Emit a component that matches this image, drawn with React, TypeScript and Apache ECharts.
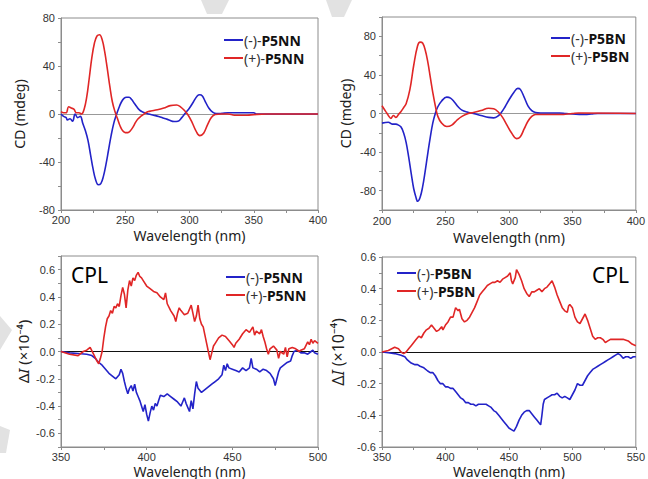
import React, { useEffect, useRef } from "react";
import * as echarts from "echarts";

// ---------- DATA ----------
// CD spectra: [wavelength (nm), CD (mdeg)]
const cdMinusP5NN: [number, number][] = [
  [200, 0], [202, -2], [204, -3], [205, -5], [207, -4], [209, -6], [211, 0], [213, -3], [215, -2],
  [217, -8], [219, -14], [221, -22], [223, -34], [225, -46], [227, -55], [229, -59], [231, -58],
  [233, -52], [235, -42], [237, -30], [239, -18], [241, -8], [243, -1], [245, 5], [247, 10],
  [249, 13], [251, 14], [253, 14], [255, 12], [257, 9], [259, 6], [261, 3.5], [263, 2], [265, 1],
  [268, 0], [272, -1], [276, -2], [280, -3.5], [284, -5], [288, -6.3], [291, -6], [294, -3],
  [297, 1], [300, 5], [303, 10], [306, 15], [308, 16], [310, 15], [312, 11], [315, 5], [318, 1.5],
  [321, 0.3], [325, 0.5], [330, 1], [340, 1], [350, 1], [352, 0], [360, 0], [400, 0],
];
const cdPlusP5NN: [number, number][] = [
  [200, 2], [202, 1], [204, 1], [206, 6], [208, 5], [210, 4], [212, 1], [214, 1], [216, 0],
  [218, 4], [220, 14], [222, 30], [224, 47], [226, 59], [228, 65], [230, 66], [232, 62], [234, 52],
  [236, 38], [238, 23], [240, 10], [242, 2], [244, -4], [246, -10], [248, -14], [250, -15.5],
  [252, -15.5], [254, -14], [256, -11], [258, -7], [260, -4], [262, -2], [264, -0.5], [266, 1],
  [268, 2], [270, 2.5], [275, 3.5], [280, 5], [285, 7], [290, 7.5], [293, 6], [296, 3], [299, -1],
  [302, -7], [305, -14], [308, -18], [311, -16], [314, -9], [317, -3], [320, -0.5], [325, 0],
  [330, 0], [335, -1], [340, -1], [345, -1], [350, -0.5], [360, 0], [400, 0],
];
const cdMinusP5BN: [number, number][] = [
  [200, -10], [205, -9], [208, -11], [211, -11], [213, -12], [215, -14], [217, -20], [219, -30],
  [221, -45], [223, -62], [225, -78], [227, -88], [228, -91], [230, -87], [232, -76], [234, -60],
  [236, -42], [238, -25], [240, -10], [242, 0], [244, 7], [247, 13], [251, 17], [254, 16],
  [257, 12], [260, 7], [263, 3.5], [267, 1.5], [272, 0], [278, -2], [284, -4], [288, -4.5],
  [291, -3], [294, 1], [297, 7], [300, 14], [304, 22], [307, 26], [309, 25], [312, 17], [315, 8],
  [318, 3], [321, 1], [325, 0.5], [340, 0.5], [345, 0], [360, -1], [365, -0.5], [370, 0], [400, 0],
];
const cdPlusP5BN: [number, number][] = [
  [200, 8], [203, 2], [205, -2], [207, -5], [209, -2], [211, -4], [213, -1], [215, 2], [217, 6],
  [219, 10], [222, 25], [225, 50], [228, 70], [230, 74], [232, 73], [234, 66], [236, 54],
  [238, 38], [240, 22], [242, 8], [244, -3], [247, -10], [251, -13.5], [255, -12], [259, -7],
  [263, -3], [268, 0], [272, 1], [278, 3], [284, 5.5], [288, 5], [292, 1], [295, -4], [298, -11],
  [302, -20], [306, -26], [309, -24], [312, -16], [315, -8], [318, -3], [321, -1], [325, -1],
  [340, -1], [350, 0], [355, 0.5], [400, 0],
];

// CPL spectra: [wavelength (nm), ΔI (×10^-4)]
const cplMinusP5NN: [number, number][] = [
  [350, 0], [355, -0.01], [360, -0.015], [365, -0.02], [368, -0.03], [370, -0.05], [372, -0.08],
  [374, -0.1], [376, -0.13], [378, -0.16], [380, -0.18], [382, -0.2], [384, -0.17], [385, -0.13],
  [386, -0.16], [387, -0.22], [388, -0.27], [389, -0.31], [390, -0.27], [391, -0.25], [392, -0.29],
  [393, -0.24], [394, -0.3], [395, -0.33], [396, -0.36], [397, -0.4], [398, -0.44], [399, -0.39],
  [400, -0.46], [401, -0.51], [402, -0.45], [403, -0.4], [404, -0.43], [405, -0.38], [406, -0.4],
  [407, -0.36], [408, -0.32], [410, -0.33], [412, -0.31], [414, -0.33], [416, -0.35], [418, -0.37],
  [420, -0.4], [421, -0.37], [422, -0.34], [423, -0.38], [425, -0.44], [426, -0.36], [427, -0.42],
  [428, -0.31], [429, -0.22], [430, -0.27], [432, -0.3], [434, -0.28], [436, -0.26], [438, -0.24],
  [440, -0.22], [442, -0.2], [444, -0.17], [445, -0.1], [446, -0.14], [447, -0.09], [448, -0.12],
  [450, -0.13], [452, -0.14], [454, -0.15], [456, -0.12], [458, -0.14], [460, -0.12], [461, -0.05],
  [462, -0.12], [464, -0.13], [466, -0.15], [468, -0.13], [470, -0.14], [472, -0.16], [474, -0.2],
  [475, -0.25], [476, -0.2], [477, -0.15], [478, -0.12], [480, -0.1], [482, -0.08], [484, -0.07],
  [485, -0.03], [486, 0], [488, 0.01], [490, -0.01], [492, -0.01], [494, -0.02], [496, 0],
  [497, 0.01], [498, -0.01], [500, -0.02],
];
const cplPlusP5NN: [number, number][] = [
  [350, 0], [355, -0.02], [360, -0.03], [363, 0], [365, 0.01], [367, 0.03], [369, -0.02],
  [371, -0.07], [372, -0.09], [373, -0.05], [374, 0], [375, 0.1], [376, 0.18], [377, 0.24],
  [378, 0.26], [379, 0.3], [380, 0.28], [381, 0.33], [382, 0.32], [383, 0.35], [384, 0.33],
  [385, 0.41], [386, 0.47], [387, 0.42], [388, 0.32], [389, 0.45], [390, 0.52], [391, 0.48],
  [392, 0.54], [393, 0.52], [394, 0.56], [395, 0.58], [396, 0.55], [397, 0.54], [398, 0.52],
  [400, 0.48], [402, 0.46], [404, 0.44], [406, 0.43], [408, 0.4], [410, 0.38], [411, 0.43],
  [412, 0.35], [414, 0.3], [416, 0.26], [417, 0.22], [418, 0.28], [419, 0.32], [420, 0.3],
  [422, 0.27], [424, 0.28], [426, 0.34], [427, 0.28], [428, 0.22], [429, 0.26], [430, 0.34],
  [431, 0.24], [432, 0.2], [433, 0.18], [434, 0.12], [435, 0.06], [436, 0], [437, -0.06],
  [438, -0.01], [439, 0.04], [440, 0.06], [442, 0.1], [444, 0.12], [446, 0.11], [448, 0.08],
  [450, 0.05], [451, 0.03], [452, 0.06], [454, 0.09], [456, 0.13], [458, 0.16], [460, 0.14],
  [462, 0.18], [463, 0.12], [464, 0.15], [466, 0.13], [467, 0.16], [468, 0.11], [469, 0.07],
  [470, 0.02], [471, -0.02], [472, 0.02], [474, 0.04], [476, 0.01], [477, -0.05], [478, 0],
  [480, -0.02], [481, 0.03], [482, -0.04], [483, 0.02], [485, 0.03], [487, 0.02], [489, 0],
  [490, 0.01], [492, 0.02], [494, 0.07], [495, 0.05], [496, 0.09], [497, 0.06], [498, 0.08],
  [500, 0.06],
];
const cplMinusP5BN: [number, number][] = [
  [350, 0], [355, -0.005], [360, -0.01], [365, -0.02], [368, -0.03], [370, -0.05], [373, -0.07],
  [376, -0.08], [378, -0.08], [380, -0.09], [383, -0.1], [386, -0.12], [388, -0.13], [390, -0.13],
  [392, -0.15], [394, -0.18], [396, -0.2], [398, -0.2], [400, -0.22], [402, -0.22], [404, -0.23],
  [406, -0.23], [408, -0.25], [410, -0.27], [412, -0.29], [414, -0.3], [416, -0.32], [418, -0.32],
  [420, -0.33], [422, -0.33], [424, -0.34], [426, -0.33], [428, -0.33], [430, -0.33], [432, -0.33],
  [434, -0.34], [436, -0.35], [438, -0.37], [440, -0.38], [442, -0.4], [444, -0.42], [446, -0.44],
  [448, -0.46], [450, -0.48], [452, -0.49], [454, -0.5], [456, -0.47], [458, -0.43], [460, -0.4],
  [462, -0.38], [464, -0.37], [466, -0.37], [468, -0.39], [470, -0.41], [472, -0.43], [474, -0.45],
  [475, -0.46], [476, -0.4], [477, -0.33], [478, -0.3], [480, -0.29], [482, -0.28], [484, -0.27],
  [486, -0.27], [488, -0.26], [490, -0.28], [492, -0.29], [494, -0.28], [496, -0.29], [498, -0.3],
  [500, -0.27], [502, -0.24], [504, -0.2], [506, -0.21], [508, -0.21], [510, -0.18], [512, -0.15],
  [514, -0.13], [516, -0.11], [518, -0.1], [520, -0.09], [522, -0.08], [524, -0.07], [526, -0.06],
  [528, -0.05], [530, -0.04], [532, -0.03], [534, -0.02], [536, -0.01], [538, -0.02], [540, -0.04],
  [542, -0.03], [544, -0.03], [546, -0.04], [548, -0.03], [550, -0.03],
];
const cplPlusP5BN: [number, number][] = [
  [350, 0], [355, 0.01], [360, 0.03], [363, 0.02], [365, 0], [367, -0.01], [369, 0], [371, 0.02],
  [373, 0.04], [375, 0.06], [377, 0.08], [379, 0.1], [381, 0.09], [383, 0.12], [385, 0.14],
  [387, 0.15], [389, 0.17], [391, 0.15], [393, 0.13], [395, 0.14], [397, 0.16], [398, 0.14],
  [400, 0.17], [402, 0.19], [404, 0.22], [406, 0.22], [408, 0.28], [410, 0.26], [411, 0.27],
  [413, 0.21], [415, 0.19], [417, 0.2], [419, 0.22], [421, 0.25], [423, 0.28], [425, 0.32],
  [427, 0.36], [429, 0.38], [431, 0.4], [433, 0.42], [435, 0.43], [437, 0.44], [439, 0.44],
  [441, 0.45], [443, 0.44], [445, 0.46], [447, 0.47], [449, 0.48], [451, 0.5], [452, 0.45],
  [453, 0.43], [455, 0.47], [456, 0.52], [458, 0.49], [460, 0.45], [462, 0.4], [464, 0.37],
  [466, 0.35], [468, 0.38], [470, 0.38], [472, 0.39], [474, 0.4], [476, 0.38], [478, 0.4],
  [480, 0.41], [482, 0.43], [484, 0.45], [486, 0.41], [488, 0.36], [490, 0.32], [492, 0.28],
  [494, 0.26], [496, 0.25], [497, 0.29], [498, 0.3], [500, 0.28], [502, 0.22], [504, 0.19],
  [506, 0.18], [508, 0.21], [510, 0.24], [512, 0.2], [514, 0.15], [516, 0.1], [518, 0.08],
  [520, 0.09], [522, 0.09], [524, 0.08], [526, 0.06], [528, 0.07], [530, 0.08], [535, 0.08],
  [540, 0.08], [544, 0.07], [547, 0.05], [550, 0.04],
];

const nameMinusNN = "(-)-P5NN";
const namePlusNN = "(+)-P5NN";
const nameMinusBN = "(-)-P5BN";
const namePlusBN = "(+)-P5BN";

// ---------- STYLE ----------
const BLUE = "#2323c8";
const RED = "#e02626";
const FRAME = "#8c8c8c";
const TICK_FONT = "Liberation Sans, Arial, sans-serif";
const TEXT_FONT = "Noto Sans, Open Sans, sans-serif";

function xAxisFor(gridIndex: number, min: number, max: number, gap: number, margin: number) {
  return {
    type: "value",
    gridIndex,
    min,
    max,
    interval: 25,
    name: "Wavelength (nm)",
    nameLocation: "middle",
    nameGap: gap,
    nameTextStyle: { fontSize: 14, color: "#222", fontFamily: TEXT_FONT },
    axisLine: { onZero: false, lineStyle: { color: FRAME, width: 1 } },
    axisTick: { show: true, inside: false, length: 3, lineStyle: { color: FRAME } },
    splitLine: { show: false },
    axisLabel: {
      fontSize: 11,
      color: "#333",
      fontFamily: TICK_FONT,
      margin,
      formatter: (v: number) => (Math.round(v) % 50 === 0 ? String(Math.round(v)) : ""),
    },
  };
}

function yAxisCD(gridIndex: number, min: number, max: number, gap: number) {
  return {
    type: "value",
    gridIndex,
    min,
    max,
    interval: 20,
    name: "CD (mdeg)",
    nameLocation: "middle",
    nameGap: gap,
    nameTextStyle: { fontSize: 14, color: "#222", fontFamily: TEXT_FONT },
    axisLine: { onZero: false, show: true, lineStyle: { color: FRAME, width: 1 } },
    axisTick: { show: true, inside: false, length: 3, lineStyle: { color: FRAME } },
    splitLine: { show: false },
    axisLabel: {
      fontSize: 11,
      color: "#333",
      fontFamily: TICK_FONT,
      margin: 6,
      formatter: (v: number) => (Math.round(v) % 40 === 0 ? String(Math.round(v)) : ""),
    },
  };
}

function yAxisCPL(gridIndex: number, min: number, max: number, gap: number, size: number) {
  return {
    type: "value",
    gridIndex,
    min,
    max,
    interval: 0.1,
    name: "{d|Δ}{i|I}{d| (×10⁻⁴)}",
    nameLocation: "middle",
    nameGap: gap,
    nameTextStyle: {
      color: "#222",
      rich: {
        d: { fontSize: size, color: "#222", fontFamily: TEXT_FONT },
        i: { fontSize: size, color: "#222", fontStyle: "italic", fontFamily: TEXT_FONT },
      },
    },
    axisLine: { onZero: false, show: true, lineStyle: { color: FRAME, width: 1 } },
    axisTick: { show: true, inside: false, length: 3, lineStyle: { color: FRAME } },
    splitLine: { show: false },
    axisLabel: {
      fontSize: 11,
      color: "#333",
      fontFamily: TICK_FONT,
      margin: 6,
      formatter: (v: number) => {
        const t = Math.round(v * 10);
        if (t % 2 !== 0) return "";
        return (t / 10).toFixed(1);
      },
    },
  };
}

function lineSeries(name: string, data: [number, number][], idx: number, color: string, smooth: number, zero?: string) {
  const s: any = {
    type: "line",
    name,
    data,
    xAxisIndex: idx,
    yAxisIndex: idx,
    showSymbol: false,
    symbol: "none",
    smooth,
    lineStyle: { color, width: 1.6 },
    itemStyle: { color },
    z: 3,
  };
  if (zero) {
    s.markLine = {
      silent: true,
      symbol: "none",
      label: { show: false },
      lineStyle: { color: zero, type: "solid", width: 1 },
      data: [{ yAxis: 0 }],
      z: 1,
    };
  }
  return s;
}

function legendFor(names: string[], left: number, top: number, gap: number) {
  return {
    orient: "vertical",
    left,
    top,
    icon: "rect",
    itemWidth: 19,
    itemHeight: 2,
    itemGap: gap,
    data: names,
    formatter: (n: string) => {
      const m = n.match(/^(\(.\)-)(.*)$/);
      return m ? `{a|${m[1]}}{b|${m[2]}}` : n;
    },
    textStyle: {
      padding: [0, 0, 0, -4],
      rich: {
        a: { fontSize: 14, color: "#333", fontFamily: TEXT_FONT, lineHeight: 15 },
        b: { fontSize: 14, color: "#111", fontWeight: "bold", fontFamily: TEXT_FONT, lineHeight: 15 },
      },
    },
  };
}

export default function App() {
  const ref = useRef<HTMLDivElement>(null);
  useEffect(() => {
    document.body.style.margin = "0";
    if (!ref.current) return;
    const chart = echarts.init(ref.current, undefined, { renderer: "svg" });
    const option: any = {
      animation: false,
      backgroundColor: "#ffffff",
      grid: [
        { left: 61, top: 18, width: 257, height: 192, show: true, borderColor: FRAME, borderWidth: 1 },
        { left: 382, top: 17, width: 257, height: 193, show: true, borderColor: FRAME, borderWidth: 1 },
        { left: 61, top: 256, width: 257, height: 192, show: true, borderColor: FRAME, borderWidth: 1 },
        { left: 382, top: 257, width: 257, height: 191, show: true, borderColor: FRAME, borderWidth: 1 },
      ],
      xAxis: [
        xAxisFor(0, 200, 400, 18, 4),
        xAxisFor(1, 200, 400, 20, 5),
        xAxisFor(2, 350, 500, 17, 4),
        xAxisFor(3, 350, 550, 17, 4),
      ],
      yAxis: [
        yAxisCD(0, -80, 80, 35),
        yAxisCD(1, -100, 100, 30),
        yAxisCPL(2, -0.7, 0.7, 31, 15),
        yAxisCPL(3, -0.6, 0.6, 36, 16),
      ],
      legend: [
        legendFor([nameMinusNN, namePlusNN], 219, 28, 4),
        legendFor([nameMinusBN, namePlusBN], 546, 26, 4),
        legendFor([nameMinusNN, namePlusNN], 221, 265, 4),
        legendFor([nameMinusBN, namePlusBN], 392, 261, 4),
      ],
      graphic: [
        { type: "polygon", z: -10, shape: { points: [[201, 0], [229, 0], [222, 14], [207, 14]] }, style: { fill: "#e2e2e2" } },
        { type: "polygon", z: -10, shape: { points: [[326, 0], [352, 0], [344, 17], [332, 17]] }, style: { fill: "#e2e2e2" } },
        { type: "polygon", z: -10, shape: { points: [[0, 316], [12, 330], [0, 350]] }, style: { fill: "#e2e2e2" } },
        { type: "polygon", z: -10, shape: { points: [[0, 426], [10, 430], [6, 453], [0, 453]] }, style: { fill: "#e2e2e2" } },
        { type: "text", left: 71, top: 264, style: { text: "CPL", fontSize: 21, fontFamily: TEXT_FONT, fill: "#000" } },
        { type: "text", left: 592, top: 264, style: { text: "CPL", fontSize: 21, fontFamily: TEXT_FONT, fill: "#000" } },
      ],
      series: [
        lineSeries(nameMinusNN, cdMinusP5NN, 0, BLUE, 0.4, "#999999"),
        lineSeries(namePlusNN, cdPlusP5NN, 0, RED, 0.4),
        lineSeries(nameMinusBN, cdMinusP5BN, 1, BLUE, 0.4, "#999999"),
        lineSeries(namePlusBN, cdPlusP5BN, 1, RED, 0.4),
        lineSeries(nameMinusNN, cplMinusP5NN, 2, BLUE, 0, "#111111"),
        lineSeries(namePlusNN, cplPlusP5NN, 2, RED, 0),
        lineSeries(nameMinusBN, cplMinusP5BN, 3, BLUE, 0, "#111111"),
        lineSeries(namePlusBN, cplPlusP5BN, 3, RED, 0),
      ],
    };
    chart.setOption(option);
    return () => chart.dispose();
  }, []);
  return <div ref={ref} style={{ width: 648, height: 479 }} />;
}
